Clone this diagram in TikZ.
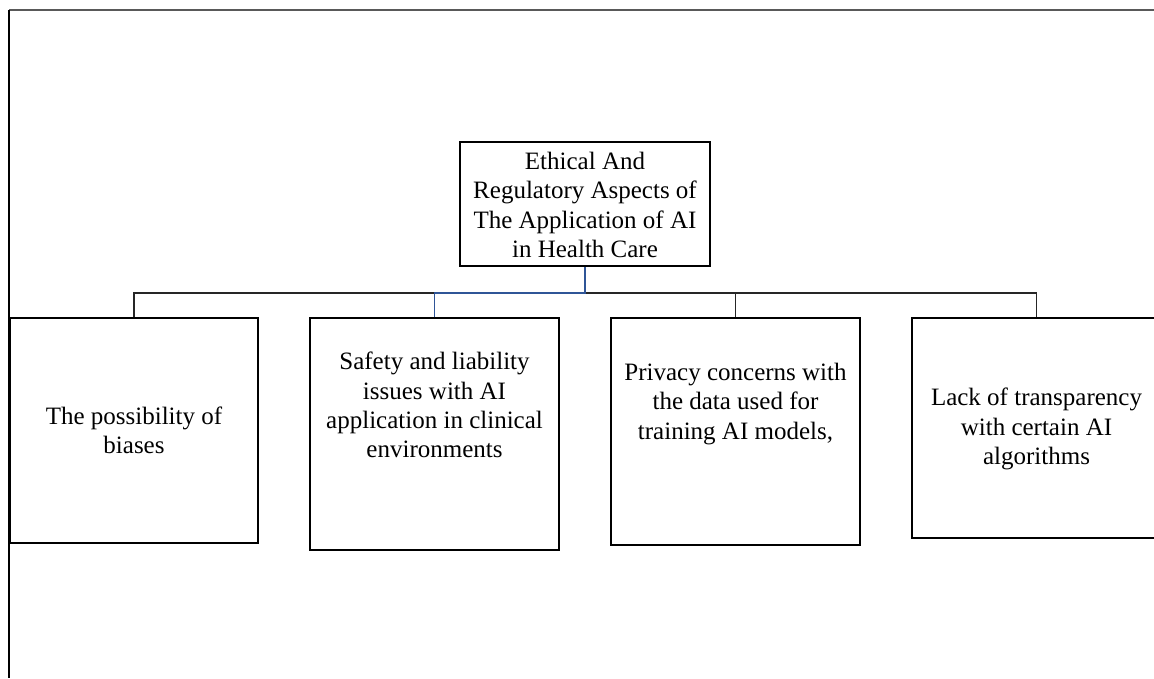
\documentclass[tikz,border=0pt]{standalone}
\usepackage{fontspec}
\setmainfont{Liberation Serif}
\definecolor{connblue}{RGB}{47,85,151}
\tikzset{
  box/.style={draw=black, line width=2.6pt, inner sep=0pt, rectangle},
  txt/.style={align=center, inner sep=0pt, font=\fontsize{25}{29.3}\selectfont},
  conn/.style={draw=black!85, line width=1.4pt},
  blueconn/.style={draw=connblue, line width=1.8pt},
  frame/.style={line width=1.6pt}
}
\begin{document}
\begin{tikzpicture}[x=1pt,y=-1pt]
\useasboundingbox (0,0) rectangle (1154,678);
\clip (0,0) rectangle (1154,678);
% frame
\coordinate (ftl) at (9,10);
\coordinate (ftr) at (1154,10);
\coordinate (fbl) at (9,678);
\draw[frame, draw=black!65] (ftl) -- (ftr);
\draw[frame, draw=black, line width=2.2pt] (ftl) -- (fbl);
% top box
\node[box, minimum width=250pt, minimum height=124pt] (top) at (585,204) {};
\node[txt] (toptxt) at (585,205) {Ethical And\\Regulatory Aspects of\\The Application of AI\\in Health Care};
% child boxes
\node[box, minimum width=248pt, minimum height=225pt] (b1) at (134,430.5) {};
\node[box, minimum width=249pt, minimum height=232pt] (b2) at (434.5,434) {};
\node[box, minimum width=249pt, minimum height=227pt] (b3) at (735.5,431.5) {};
\node[box, minimum width=249pt, minimum height=220pt] (b4) at (1036.5,428) {};
\node[txt] (t1) at (134,430) {The possibility of\\biases};
\node[txt] (t2) at (434.5,405) {Safety and liability\\issues with AI\\application in clinical\\environments};
\node[txt] (t3) at (735.5,404) {Privacy concerns with\\the data used for\\training AI models,};
\node[txt] (t4) at (1036.5,429) {Lack of transparency\\with certain AI\\algorithms};
% connectors
\coordinate (bus) at (0,293);
\draw[conn] (b1.north) -- (b1.north |- bus) -- (b4.north |- bus) -- (b4.north);
\draw[conn] (b3.north) -- (b3.north |- bus);
\draw[blueconn] (top.south) |- (b2.north |- bus) -- (b2.north);
\end{tikzpicture}
\end{document}
